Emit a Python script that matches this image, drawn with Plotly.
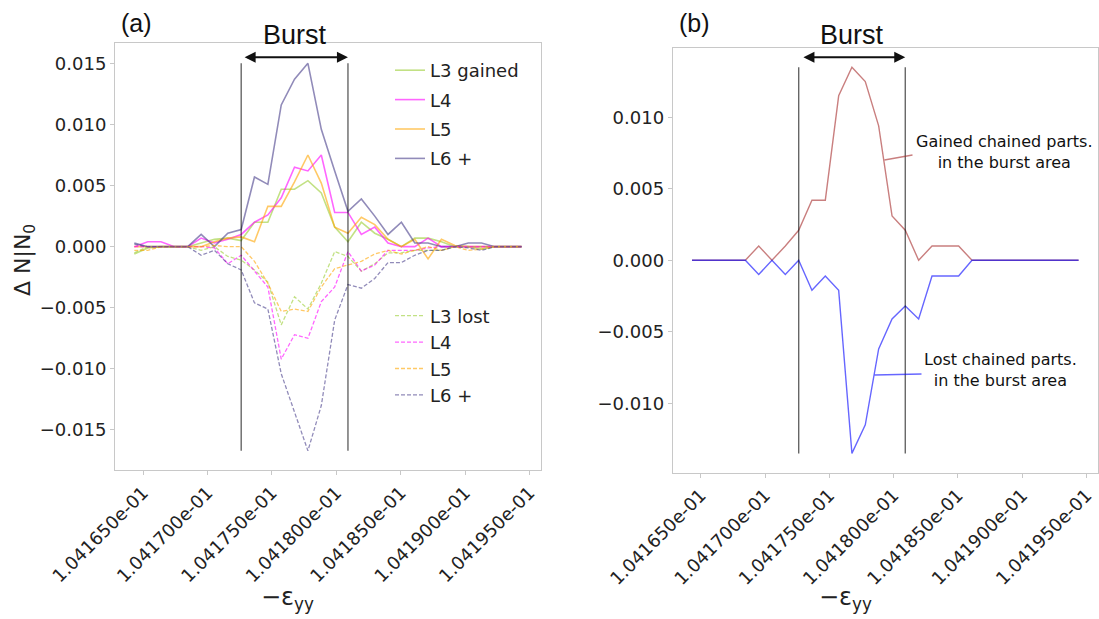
import plotly.graph_objects as go

# strain values (-eps_yy)
strain = [0.10416432, 0.10416536, 0.10416639, 0.10416743, 0.10416847, 0.10416951,
          0.10417054, 0.10417158, 0.10417262, 0.10417365, 0.10417469, 0.10417573,
          0.10417676, 0.10417780, 0.10417884, 0.10417988, 0.10418091, 0.10418195,
          0.10418299, 0.10418402, 0.10418506, 0.10418610, 0.10418713, 0.10418817,
          0.10418921, 0.10419025, 0.10419128, 0.10419232, 0.10419336, 0.10419439]

# panel (a): gained
L3_gained = [-0.0006, -0.0001, 0, 0, 0, 0.0003, 0.0006, 0.0007, 0.0005, 0.0020, 0.0020, 0.0047, 0.0047, 0.0054, 0.0044,
             0.0016, 0.0004, 0.0020, 0.0011, 0.0006, 0, 0.0007, 0.0007, 0.0004, 0, 0, -0.0002, 0, 0, 0]
L4_gained = [0, 0.0004, 0.0004, 0, 0, 0.0007, 0.0003, 0.0006, 0.0010, 0.0020, 0.0026, 0.0040, 0.0065, 0.0062, 0.0075,
             0.0028, 0.0028, 0.0010, 0.0016, 0.0003, 0, 0, 0.0007, 0, 0, 0, 0, 0, 0, 0]
L5_gained = [0, 0, 0, 0, 0, 0, 0.0004, 0.0007, 0.0008, 0.0004, 0.0033, 0.0033, 0.0053, 0.0075, 0.0052,
             0.0016, 0.0011, 0.0024, 0.0018, 0.0006, 0, 0.0006, -0.0010, 0.0006, 0.0001, 0, 0, 0, 0, 0]
L6_gained = [0.0003, 0, 0, 0, 0, 0.0010, 0, 0.0011, 0.0014, 0.0057, 0.0051, 0.0116, 0.0137, 0.0150, 0.0096,
             0.0062, 0.0029, 0.0039, 0.0025, 0.0010, 0.0020, 0.0003, 0.0003, 0, 0, 0.0003, 0.0003, 0, 0, 0]
# panel (a): lost
L3_lost = [-0.0005, 0, 0, 0, 0, -0.0003, 0, -0.0008, -0.0011, -0.0019, -0.0029, -0.0064, -0.0041, -0.0051, -0.0030,
           -0.0004, -0.0008, -0.0020, -0.0014, -0.0005, -0.0005, -0.0003, -0.0003, -0.0003, 0, 0, 0, 0, 0, 0]
L4_lost = [0, 0, 0, 0, 0, 0, -0.0001, -0.0014, -0.0007, -0.0020, -0.0033, -0.0092, -0.0072, -0.0075, -0.0045,
           -0.0033, -0.0004, -0.0020, -0.0015, -0.0003, -0.0003, -0.0003, -0.0001, 0, 0, 0, 0, 0, 0, 0]
L5_lost = [-0.0003, -0.0003, 0, 0, 0, 0, 0.0001, 0, 0, -0.0012, -0.0030, -0.0053, -0.0051, -0.0053, -0.0033,
           -0.0018, -0.0015, -0.0012, -0.0006, -0.0003, -0.0006, -0.0003, 0, -0.0003, 0, -0.0003, -0.0002, 0, 0, 0]
L6_lost = [0.0002, 0, 0, 0, 0, -0.0007, -0.0003, -0.0014, -0.0019, -0.0046, -0.0051, -0.0104, -0.0135, -0.0167, -0.0130,
           -0.0060, -0.0031, -0.0034, -0.0026, -0.0013, -0.0013, -0.0007, -0.0003, -0.0003, 0, -0.0001, -0.0003, 0, 0, 0]

# panel (b)
gained_total = [0, 0, 0, 0, 0, 0.0010, 0, 0.0010, 0.0021, 0.0042, 0.0042, 0.0115, 0.0135, 0.0125, 0.0094,
                0.0031, 0.0021, 0, 0.0010, 0.0010, 0.0010, 0, 0, 0, 0, 0, 0, 0, 0, 0]
lost_total = [0, 0, 0, 0, 0, -0.0010, 0, -0.0010, 0, -0.0021, -0.0011, -0.0021, -0.0135, -0.0115, -0.0062,
              -0.0041, -0.0032, -0.0041, -0.0011, -0.0011, -0.0011, 0, 0, 0, 0, 0, 0, 0, 0, 0]

burst_start = strain[8]
burst_end = strain[16]

x_tickvals = [0.104165, 0.10417, 0.104175, 0.10418, 0.104185, 0.10419, 0.104195]
x_ticktext = ["1.041650e-01", "1.041700e-01", "1.041750e-01", "1.041800e-01",
              "1.041850e-01", "1.041900e-01", "1.041950e-01"]
ya_tickvals = [-0.015, -0.010, -0.005, 0.0, 0.005, 0.010, 0.015]
yb_tickvals = [-0.010, -0.005, 0.0, 0.005, 0.010]

names_gained = ["L3 gained", "L4", "L5", "L6 +"]
names_lost = ["L3 lost", "L4", "L5", "L6 +"]
colors = ["rgba(154,205,50,0.6)", "rgba(255,0,255,0.6)", "rgba(255,165,0,0.6)", "rgba(72,61,139,0.6)"]

fig = go.Figure()
for i, (nm, ys) in enumerate(zip(names_gained, [L3_gained, L4_gained, L5_gained, L6_gained])):
    fig.add_trace(go.Scatter(x=strain, y=ys, mode="lines", name=nm, xaxis="x", yaxis="y",
                             line=dict(color=colors[i], width=1.6), legend="legend",
                             legendgroup="g%d" % i))
for i, (nm, ys) in enumerate(zip(names_lost, [L3_lost, L4_lost, L5_lost, L6_lost])):
    fig.add_trace(go.Scatter(x=strain, y=ys, mode="lines", name=nm, xaxis="x", yaxis="y",
                             line=dict(color=colors[i], width=1.3, dash="4px,2px"), legend="legend2",
                             legendgroup="l%d" % i))

fig.add_trace(go.Scatter(x=strain, y=gained_total, mode="lines", showlegend=False, xaxis="x2", yaxis="y2",
                         line=dict(color="rgba(165,42,42,0.6)", width=1.4)))
fig.add_trace(go.Scatter(x=strain, y=lost_total, mode="lines", showlegend=False, xaxis="x2", yaxis="y2",
                         line=dict(color="rgba(0,0,255,0.6)", width=1.4)))

a_min = min(min(L3_lost), min(L4_lost), min(L5_lost), min(L6_lost))
a_max = max(max(L3_gained), max(L4_gained), max(L5_gained), max(L6_gained))
b_min = min(lost_total)
b_max = max(gained_total)

shapes = []
for xv in (burst_start, burst_end):
    shapes.append(dict(type="line", xref="x", yref="y", x0=xv, x1=xv, y0=a_min, y1=a_max,
                       line=dict(color="rgba(0,0,0,0.6)", width=1.4)))
    shapes.append(dict(type="line", xref="x2", yref="y2", x0=xv, x1=xv, y0=b_min, y1=b_max,
                       line=dict(color="rgba(0,0,0,0.6)", width=1.4)))
# annotation connectors in (b)
shapes.append(dict(type="line", xref="x2", yref="y2", x0=0.10417929, y0=0.00701, x1=0.10418147, y1=0.00736,
                   line=dict(color="rgba(165,42,42,0.6)", width=1.3)))
shapes.append(dict(type="line", xref="x2", yref="y2", x0=0.10417852, y0=-0.00802, x1=0.10418217, y1=-0.00795,
                   line=dict(color="rgba(0,0,255,0.6)", width=1.3)))

tick_font = dict(family="DejaVu Sans", size=18, color="#222222")
axis_common = dict(showline=True, mirror=True, linecolor="#c8c8c8", linewidth=1, showgrid=False,
                   zeroline=False, ticks="outside", ticklen=4, tickcolor="#c8c8c8", tickfont=tick_font,
                   automargin=False)
xrange = [0.10416282, 0.10419590]

annotations = [
    dict(text="(a)", xref="paper", yref="paper", x=136 / 1099, y=1 - 23 / 619, showarrow=False,
         font=dict(family="Liberation Sans", size=25, color="#111111"), xanchor="center", yanchor="middle"),
    dict(text="(b)", xref="paper", yref="paper", x=694 / 1099, y=1 - 23 / 619, showarrow=False,
         font=dict(family="Liberation Sans", size=25, color="#111111"), xanchor="center", yanchor="middle"),
    dict(text="Burst", xref="x", yref="paper", x=(burst_start + burst_end) / 2, y=1 - 35 / 619, showarrow=False,
         font=dict(family="Liberation Sans", size=27, color="#111111"), xanchor="center", yanchor="middle"),
    dict(text="Burst", xref="x2", yref="paper", x=(burst_start + burst_end) / 2, y=1 - 35 / 619, showarrow=False,
         font=dict(family="Liberation Sans", size=27, color="#111111"), xanchor="center", yanchor="middle"),
    dict(text="", xref="x", yref="y", axref="x", ayref="y", x=burst_end, y=0.0155, ax=burst_start + 0.00000015,
         ay=0.0155, showarrow=True, arrowhead=2, startarrowhead=2, arrowside="end+start", arrowwidth=2,
         arrowsize=1.1, arrowcolor="#111111", standoff=0, startstandoff=0),
    dict(text="", xref="x2", yref="y2", axref="x2", ayref="y2", x=burst_end, y=0.01419, ax=burst_start + 0.00000025,
         ay=0.01419, showarrow=True, arrowhead=2, startarrowhead=2, arrowside="end+start", arrowwidth=2,
         arrowsize=1.1, arrowcolor="#111111", standoff=0, startstandoff=0),
    dict(text="Δ N|N<sub>0</sub>", xref="paper", yref="paper", x=25 / 1099, y=1 - 260 / 619, textangle=-90,
         showarrow=False, font=dict(family="DejaVu Sans", size=22, color="#222222"),
         xanchor="center", yanchor="middle"),
    dict(text="−ε<sub>yy</sub>", xref="paper", yref="paper", x=287 / 1099, y=1 - 598 / 619,
         showarrow=False, font=dict(family="DejaVu Sans", size=24, color="#222222"),
         xanchor="center", yanchor="middle"),
    dict(text="−ε<sub>yy</sub>", xref="paper", yref="paper", x=845 / 1099, y=1 - 598 / 619,
         showarrow=False, font=dict(family="DejaVu Sans", size=24, color="#222222"),
         xanchor="center", yanchor="middle"),
    dict(text="Gained chained parts.<br>in the burst area", xref="x2", yref="y2", x=0.10418861, y=0.00757,
         showarrow=False, font=dict(family="DejaVu Sans", size=16, color="#111111"), align="center",
         xanchor="center", yanchor="middle"),
    dict(text="Lost chained parts.<br>in the burst area", xref="x2", yref="y2", x=0.10418833, y=-0.0077,
         showarrow=False, font=dict(family="DejaVu Sans", size=16, color="#111111"), align="center",
         xanchor="center", yanchor="middle"),
]

legend_font = dict(family="DejaVu Sans", size=18, color="#222222")
fig.update_layout(
    width=1099, height=619, autosize=False,
    margin=dict(l=0, r=0, t=0, b=0, pad=0),
    paper_bgcolor="white", plot_bgcolor="white",
    xaxis=dict(domain=[115 / 1099, 541 / 1099], range=xrange, anchor="y", tickvals=x_tickvals,
               ticktext=x_ticktext, tickangle=-45, **axis_common),
    yaxis=dict(domain=[1 - 470.2 / 619, 1 - 42.7 / 619], range=[-0.01829, 0.01669], anchor="x",
               tickvals=ya_tickvals, tickformat=".3f", **axis_common),
    xaxis2=dict(domain=[672.7 / 1099, 1098 / 1099], range=xrange, anchor="y2", tickvals=x_tickvals,
                ticktext=x_ticktext, tickangle=-45, **axis_common),
    yaxis2=dict(domain=[1 - 472.7 / 619, 1 - 48.3 / 619], range=[-0.01485, 0.01482], anchor="x2",
                tickvals=yb_tickvals, tickformat=".3f", **axis_common),
    legend=dict(x=390 / 1099, y=1 - 52 / 619, xanchor="left", yanchor="top", bgcolor="rgba(0,0,0,0)",
                font=legend_font, traceorder="grouped", tracegroupgap=3),
    legend2=dict(x=390 / 1099, y=1 - 297.5 / 619, xanchor="left", yanchor="top", bgcolor="rgba(0,0,0,0)",
                 font=legend_font, traceorder="grouped", tracegroupgap=0),
    shapes=shapes,
    annotations=annotations,
)

fig.write_html("out.html")
